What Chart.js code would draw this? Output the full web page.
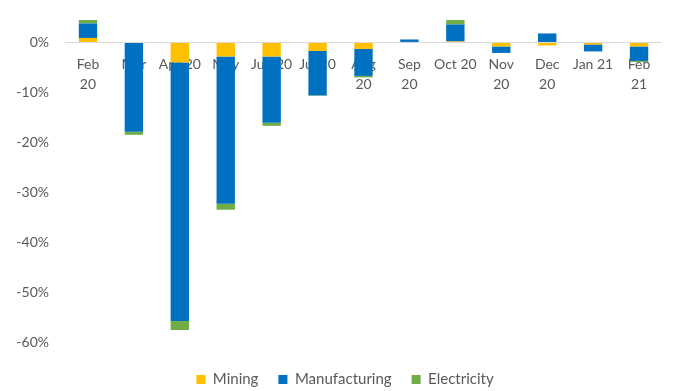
<!DOCTYPE html>
<html>
<head>
<meta charset="utf-8">
<script src="https://cdn.jsdelivr.net/npm/chart.js@4.4.1/dist/chart.umd.min.js"></script>
<style>
  html, body { margin: 0; padding: 0; background: #fff; }
  #wrap { width: 683px; height: 391px; }
</style>
</head>
<body>
<div id="wrap"><canvas id="outputChart"></canvas></div>
<script>
// Monthly change in output by sector, percentage points
const months = [
    ["Feb", "20"], ["Mar", "20"], "Apr 20", ["May", "20"], "Jun 20", "Jul 20",
    ["Aug", "20"], ["Sep", "20"], "Oct 20", ["Nov", "20"], ["Dec", "20"], "Jan 21", ["Feb", "21"]
];
const mining        = [0.9, 0, -4.0, -2.8, -2.8, -1.7, -1.3, 0, 0.2, -0.8, -0.6, -0.4, -0.8];
const manufacturing = [2.9, -17.9, -51.8, -29.5, -13.3, -8.9, -5.4, 0.6, 3.4, -1.3, 1.8, -1.4, -2.9];
const electricity   = [0.7, -0.6, -1.8, -1.2, -0.6, -0.1, -0.3, 0, 0.9, 0, 0, 0, -0.2];
const yTicks = [-60, -50, -40, -30, -20, -10, 0];

const textColor = "#595959";
const fontFamily = "Lato, 'Open Sans', sans-serif";

function makeSeries(label, data, color) {
    return { label, data, backgroundColor: color, borderWidth: 0 };
}

// nudge the legend row so it sits under the middle of the bars
const legendOffset = {
    id: "legendOffset",
    afterLayout(chart) {
        chart.legend.left += 14;
        chart.legend.right += 14;
    },
};

const ctx = document.getElementById("outputChart").getContext("2d");
new Chart(ctx, {
    type: "bar",
    data: {
        labels: months,
        datasets: [
            makeSeries("Mining", mining, "#FFC000"),
            makeSeries("Manufacturing", manufacturing, "#0070C0"),
            makeSeries("Electricity", electricity, "#70AD47"),
        ],
    },
    plugins: [legendOffset],
    options: {
        responsive: true,
        maintainAspectRatio: false,
        animation: false,
        categoryPercentage: 1,
        barPercentage: 0.4,
        layout: { padding: { top: 13, right: 21, bottom: -6, left: 0 } },
        plugins: {
            tooltip: { enabled: false },
            legend: {
                position: "bottom",
                labels: {
                    boxWidth: 9,
                    boxHeight: 9,
                    padding: 20,
                    color: textColor,
                    font: { family: fontFamily, size: 15 },
                },
            },
        },
        scales: {
            x: {
                stacked: true,
                position: { y: 0 },
                grid: { display: false, drawTicks: true, tickLength: 12 },
                border: { display: false },
                ticks: {
                    color: textColor,
                    font: { family: fontFamily, size: 14, lineHeight: 1.45 },
                    padding: 0,
                    maxRotation: 0,
                    autoSkip: false,
                },
            },
            y: {
                stacked: true,
                min: -62,
                max: 5.9,
                afterBuildTicks: (scale) => {
                    scale.ticks = yTicks.map((v) => ({ value: v }));
                },
                afterFit: (scale) => {
                    scale.width = 65;
                },
                grid: {
                    drawTicks: true,
                    tickLength: 16,
                    tickColor: "transparent",
                    color: (c) => (c.tick && c.tick.value === 0 ? "#D9D9D9" : "transparent"),
                },
                border: { display: false },
                ticks: {
                    color: textColor,
                    font: { family: fontFamily, size: 14 },
                    padding: 0,
                    callback: (v) => v + "%",
                },
            },
        },
    },
});
</script>
</body>
</html>
